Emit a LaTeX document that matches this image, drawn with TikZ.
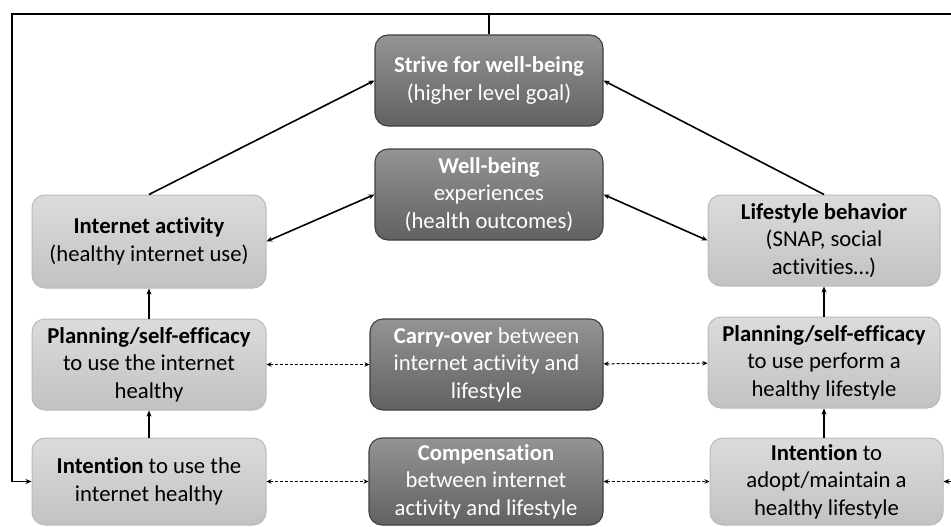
\documentclass[tikz,border=0pt]{standalone}
\usepackage{fontspec}
\setmainfont[Ligatures=NoCommon]{Carlito}
\usetikzlibrary{arrows.meta, positioning}

\begin{document}
\begin{tikzpicture}[
    x=1pt, y=-1pt,
    darkbox/.style = {rectangle, rounded corners=13pt, draw=black!75, line width=1.1pt,
                      top color=black!42, bottom color=black!62, text=white,
                      font=\fontsize{22.7}{27.5}\selectfont, align=center, inner sep=2pt},
    lightbox/.style = {rectangle, rounded corners=13pt, draw=black!27, line width=1pt,
                       top color=black!14, bottom color=black!24, text=black,
                       font=\fontsize{22.7}{27.5}\selectfont, align=center, inner sep=2pt},
    arrow/.style = {-{Stealth[length=6pt, width=5pt]}, line width=1.6pt},
    twoway/.style = {{Stealth[length=6pt, width=5pt]}-{Stealth[length=6pt, width=5pt]}, line width=1.6pt},
    dotarrow/.style = {{Stealth[length=5pt, width=4.5pt]}-{Stealth[length=5pt, width=4.5pt]},
                       line width=1pt, dash pattern=on 3pt off 2pt}
]

\useasboundingbox (0,0) rectangle (951,527);

% Nodes - goal and outcomes (middle column)
\node (strive) [darkbox, minimum width=228pt, minimum height=91pt] at (489, 80.5)
    {\textbf{Strive for well-being}\\(higher level goal)};
\node (wellbeing) [darkbox, minimum width=228pt, minimum height=91pt] at (489, 194.5)
    {\textbf{Well-being}\\experiences\\(health outcomes)};
\node (carry) [darkbox, minimum width=233pt, minimum height=91pt] at (486.5, 364.5)
    {\textbf{Carry-over} between\\internet activity and\\lifestyle};
\node (comp) [darkbox, minimum width=234pt, minimum height=87pt] at (486, 481.5)
    {\textbf{Compensation}\\between internet\\activity and lifestyle};

% Nodes - internet (left column)
\node (internet) [lightbox, minimum width=234pt, minimum height=93pt] at (149, 241.5)
    {\textbf{Internet activity}\\(healthy internet use)};
\node (planL) [lightbox, minimum width=234pt, minimum height=91pt] at (149, 364.5)
    {\textbf{Planning/self-efficacy}\\to use the internet\\healthy};
\node (intL) [lightbox, minimum width=234pt, minimum height=87pt] at (149, 481.5)
    {\textbf{Intention} to use the\\internet healthy};

% Nodes - lifestyle (right column)
\node (lifestyle) [lightbox, minimum width=232pt, minimum height=91pt] at (824, 240.5)
    {\textbf{Lifestyle behavior}\\(SNAP, social\\activities\dots)};
\node (planR) [lightbox, minimum width=232pt, minimum height=91pt] at (824, 362.5)
    {\textbf{Planning/self-efficacy}\\to use perform a\\healthy lifestyle};
\node (intR) [lightbox, minimum width=233pt, minimum height=87pt] at (826.5, 481.5)
    {\textbf{Intention} to\\adopt/maintain a\\healthy lifestyle};

% Feedback loop corners
\coordinate (fbleft) at (12, 14);
\coordinate (fbright) at (955, 14);

% Arrows - up the columns
\draw [arrow] (intL) -- (planL);
\draw [arrow] (planL) -- (internet);
\draw [arrow] (intR.north -| planR) -- (planR);
\draw [arrow] (planR) -- (lifestyle);

% Arrows - to the goal and outcomes
\draw [arrow] (internet.north) -- (strive.west);
\draw [arrow] (lifestyle.north) -- (strive.east);
\draw [twoway] (internet.east) -- (wellbeing.west);
\draw [twoway] (lifestyle.west) -- (wellbeing.east);

% Dotted links across
\draw [dotarrow] (planL) -- (carry);
\draw [dotarrow] (carry) -- (planR);
\draw [dotarrow] (intL) -- (comp);
\draw [dotarrow] (comp) -- (intR);

% Feedback from the goal back to the intentions
\draw [arrow] (strive.north) |- (fbleft) |- (intL.west);
\draw [arrow] (strive.north) |- (fbright) |- (intR.east);

\end{tikzpicture}
\end{document}
